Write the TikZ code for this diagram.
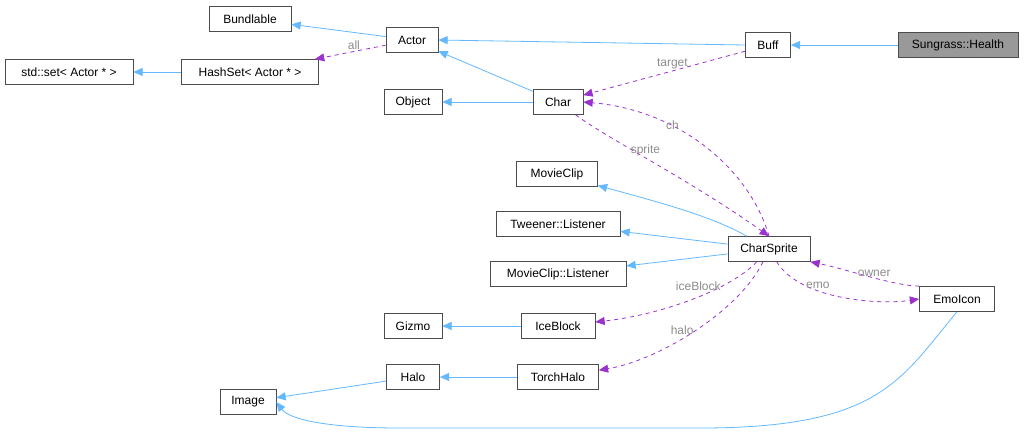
\documentclass[tikz,border=0pt]{standalone}
\usepackage{fontspec}
\setmainfont{Liberation Sans}
\usetikzlibrary{arrows.meta}
\definecolor{inh}{HTML}{63B8FF}
\definecolor{use}{HTML}{9A32CD}
\begin{document}
\begin{tikzpicture}[x=0.75pt,y=-0.75pt,
  box/.style={draw=black!70,fill=white,minimum height=18.75pt,inner sep=0pt,font=\fontsize{9}{10}\selectfont,line width=0.5pt},
  ih/.style={draw=inh,line width=0.6pt,-{Triangle[length=7pt,width=6pt]}},
  us/.style={draw=use,dashed,line width=0.6pt,-{Triangle[length=7pt,width=6pt]}},
  lb/.style={font=\fontsize{9}{10}\selectfont,text=black!45,inner sep=1pt}]
\useasboundingbox (0,0) rectangle (1025,433);
\node[box,fill=black!40,minimum width=90pt] (health) at (958,45) {Sungrass::Health};
\node[box,minimum width=33.75pt] (buff) at (768,45) {Buff};
\node[box,minimum width=39pt] (actor) at (412,40) {Actor};
\node[box,minimum width=61.5pt] (bund) at (250,19) {Bundlable};
\node[box,minimum width=102.75pt] (hash) at (250,72) {HashSet< Actor * >};
\node[box,minimum width=96pt] (stdset) at (69,72) {std::set< Actor * >};
\node[box,minimum width=37.5pt] (char) at (558,102) {Char};
\node[box,minimum width=43.5pt] (object) at (413,102) {Object};
\node[box,minimum width=60.75pt] (mc) at (557,174) {MovieClip};
\node[box,minimum width=93pt] (tl) at (558,224) {Tweener::Listener};
\node[box,minimum width=61.5pt] (cs) at (769,249) {CharSprite};
\node[box,minimum width=102pt] (mcl) at (558,274) {MovieClip::Listener};
\node[box,minimum width=43.5pt] (gizmo) at (413,326) {Gizmo};
\node[box,minimum width=55.5pt] (ice) at (558,326) {IceBlock};
\node[box,minimum width=56.25pt] (emo) at (957,299) {EmoIcon};
\node[box,minimum width=39.75pt] (halo) at (413,377) {Halo};
\node[box,minimum width=60.75pt] (torch) at (558,377) {TorchHalo};
\node[box,minimum width=42pt] (image) at (248,402) {Image};

\draw[ih] (health) -- (buff);
\draw[ih] (buff.west) -- (actor.east);
\draw[ih] (actor) -- (bund);
\draw[ih] (hash) -- (stdset);
\draw[us] (actor) -- node[lb,above,pos=0.45]{all} (hash);
\draw[us] (buff) -- node[lb,above,pos=0.45]{target} (char);
\draw[ih] (char) -- (actor);
\draw[ih] (char) -- (object);
\draw[us] (cs.north) .. controls (750,170) and (680,110) .. node[lb,pos=0.62,above left]{ch} (char.east);
\draw[us] (char) .. controls (610,140) and (690,180) .. node[lb,pos=0.45,above]{sprite} (cs.north);
\draw[ih] (cs) .. controls (710,215) and (650,200) .. (mc);
\draw[ih] (cs) -- (tl);
\draw[ih] (cs) -- (mcl);
\draw[us] (cs) .. controls (730,290) and (660,315) .. node[lb,pos=0.3,left]{iceBlock} (ice);
\draw[us] (cs) .. controls (740,310) and (660,360) .. node[lb,pos=0.5,left]{halo} (torch);
\draw[us] (emo.north west) .. controls (890,285) and (850,270) .. node[lb,pos=0.45,above]{owner} (cs.south east);
\draw[us] (cs) .. controls (800,300) and (880,305) .. node[lb,pos=0.35,above]{emo} (emo.west);
\draw[ih] (ice) -- (gizmo);
\draw[ih] (torch) -- (halo);
\draw[ih] (halo) -- (image);
\draw[ih] (emo.south) .. controls (900,380) and (880,428) .. (700,428) -- (400,428) .. controls (330,428) and (290,420) .. (image.east);
\end{tikzpicture}
\end{document}
